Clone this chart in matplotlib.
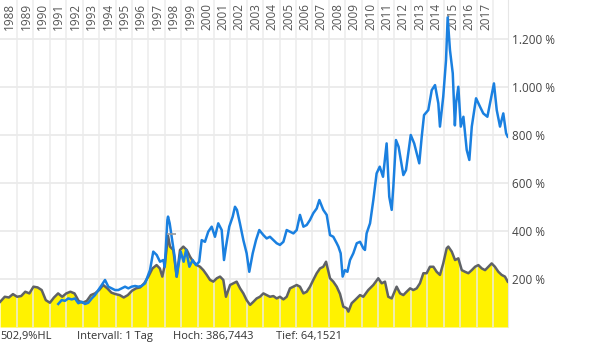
import matplotlib
matplotlib.use("Agg")
import matplotlib.pyplot as plt

# index line (grey, yellow area), % values
idx_t = [1987.97, 1988.25, 1988.5, 1988.75, 1989.0, 1989.25, 1989.5, 1989.75,
         1990.0, 1990.25, 1990.5, 1990.75, 1991.0, 1991.25, 1991.5, 1991.75,
         1992.0, 1992.25, 1992.5, 1992.75, 1993.0, 1993.25, 1993.5, 1993.75,
         1994.0, 1994.25, 1994.5, 1994.75, 1995.0, 1995.25, 1995.5, 1995.75,
         1996.0, 1996.25, 1996.5, 1996.75, 1997.0, 1997.25, 1997.5, 1997.7,
         1997.85, 1998.0, 1998.2, 1998.32, 1998.52, 1998.73, 1998.93, 1999.13,
         1999.34, 1999.54, 1999.74, 1999.95, 2000.15, 2000.35, 2000.56, 2000.76,
         2000.96, 2001.17, 2001.37, 2001.57, 2001.73, 2001.98, 2002.18, 2002.38,
         2002.59, 2002.79, 2002.99, 2003.2, 2003.4, 2003.6, 2003.8, 2004.01,
         2004.21, 2004.41, 2004.62, 2004.82, 2005.02, 2005.23, 2005.43, 2005.63,
         2005.84, 2006.04, 2006.24, 2006.45, 2006.65, 2006.85, 2007.05, 2007.26,
         2007.46, 2007.66, 2007.83, 2008.07, 2008.27, 2008.48, 2008.68, 2008.88,
         2009.09, 2009.19, 2009.39, 2009.59, 2009.9, 2010.1, 2010.4, 2010.71,
         2011.01, 2011.22, 2011.42, 2011.62, 2011.83, 2012.13, 2012.34, 2012.54,
         2012.74, 2012.95, 2013.15, 2013.35, 2013.55, 2013.76, 2013.96, 2014.16,
         2014.37, 2014.57, 2014.77, 2014.97, 2015.18, 2015.28, 2015.49, 2015.69,
         2015.89, 2016.1, 2016.3, 2016.5, 2016.71, 2016.91, 2017.11, 2017.32,
         2017.52, 2017.72, 2017.92, 2018.12, 2018.33, 2018.53, 2018.73, 2018.9]
idx_v = [105, 126, 123, 137, 126, 129, 147, 140,
         168, 165, 154, 112, 101, 123, 140, 126,
         140, 147, 140, 109, 101, 109, 133, 140,
         154, 175, 161, 143, 137, 133, 123, 133,
         151, 161, 165, 182, 210, 244, 258, 244,
         210, 258, 380, 335, 321, 210, 321, 335,
         321, 293, 272, 258, 251, 237, 217, 196,
         189, 203, 210, 196, 126, 175, 182, 189,
         161, 140, 112, 92, 105, 119, 126, 140,
         133, 126, 129, 119, 126, 115, 126, 161,
         168, 175, 168, 140, 147, 168, 196, 224,
         244, 251, 272, 203, 189, 168, 138, 85,
         78, 64, 99, 112, 133, 126, 154, 175,
         203, 182, 189, 126, 119, 168, 140, 133,
         147, 161, 154, 161, 182, 224, 224, 251,
         251, 230, 217, 265, 328, 335, 314, 279,
         286, 237, 230, 224, 237, 251, 258, 244,
         237, 251, 265, 251, 230, 217, 210, 189]

# stock line (blue), % values
stk_t = [1991.51, 1991.72, 1991.92, 1992.12, 1992.33, 1992.53, 1992.73, 1992.94,
         1993.14, 1993.34, 1993.55, 1993.75, 1993.95, 1994.16, 1994.36, 1994.56,
         1994.77, 1994.97, 1995.17, 1995.38, 1995.58, 1995.78, 1995.98, 1996.19,
         1996.39, 1996.59, 1996.8, 1997.1, 1997.3, 1997.51, 1997.71, 1997.91,
         1998.0, 1998.16, 1998.2, 1998.3, 1998.42, 1998.6, 1998.72, 1998.85,
         1998.97, 1999.15, 1999.3, 1999.5, 1999.7, 1999.9, 2000.1, 2000.25,
         2000.45, 2000.65, 2000.86, 2001.06, 2001.26, 2001.47, 2001.61, 2001.73,
         2001.93, 2002.14, 2002.28, 2002.4, 2002.58, 2002.79, 2002.99, 2003.15,
         2003.36, 2003.56, 2003.76, 2004.01, 2004.21, 2004.41, 2004.62, 2004.82,
         2005.02, 2005.23, 2005.43, 2005.63, 2005.84, 2006.04, 2006.24, 2006.45,
         2006.65, 2006.85, 2007.05, 2007.26, 2007.42, 2007.66, 2007.87, 2008.07,
         2008.27, 2008.48, 2008.58, 2008.72, 2008.84, 2008.98, 2009.13, 2009.29,
         2009.49, 2009.7, 2009.9, 2010.1, 2010.2, 2010.3, 2010.51, 2010.71,
         2010.91, 2011.1, 2011.3, 2011.52, 2011.68, 2011.83, 2011.93, 2012.09,
         2012.25, 2012.54, 2012.7, 2012.99, 2013.2, 2013.51, 2013.66, 2013.8,
         2014.06, 2014.27, 2014.47, 2014.67, 2014.77, 2014.97, 2015.14, 2015.24,
         2015.38, 2015.55, 2015.68, 2015.75, 2015.89, 2016.04, 2016.2, 2016.4,
         2016.56, 2016.71, 2016.97, 2017.21, 2017.41, 2017.66, 2017.86, 2018.06,
         2018.23, 2018.43, 2018.63, 2018.8, 2018.9]
stk_v = [96, 112, 109, 119, 115, 119, 99, 105,
         96, 101, 119, 133, 154, 175, 196, 168,
         161, 154, 154, 161, 168, 161, 168, 171,
         168, 171, 182, 237, 314, 300, 272, 279,
         251, 446, 460, 432, 376, 293, 210, 265,
         314, 272, 321, 251, 279, 258, 272, 362,
         355, 397, 418, 376, 432, 404, 279, 335,
         418, 460, 501, 488, 432, 362, 307, 230,
         307, 362, 404, 383, 369, 376, 362, 349,
         342, 355, 404, 397, 390, 404, 467, 418,
         425, 446, 474, 494, 529, 488, 467, 383,
         376, 349, 335, 307, 210, 237, 230, 279,
         307, 349, 355, 328, 321, 390, 432, 529,
         640, 668, 626, 765, 543, 488, 585, 779,
         751, 633, 654, 800, 765, 682, 793, 883,
         904, 987, 1008, 932, 835, 960, 1112, 1290,
         1154, 1057, 840, 932, 1001, 835, 876, 738,
         696, 835, 953, 918, 890, 876, 946, 1015,
         904, 835, 890, 807, 793]

years = list(range(1988, 2018))
pct_ticks = [200, 400, 600, 800, 1000, 1200]
pct_labels = ["200 %", "400 %", "600 %", "800 %", "1.000 %", "1.200 %"]
hoch, tief = 386.7443, 64.1521
footer = ["502,9%HL", "Intervall: 1 Tag", "Hoch: 386,7443", "Tief: 64,1521"]

plt.rcParams["font.family"] = ["Open Sans", "DejaVu Sans"]

W, H = 600, 346
fig = plt.figure(figsize=(W / 100, H / 100), dpi=100)
ax = fig.add_axes([0, 19 / H, 508 / W, 327 / H])

ax.fill_between(idx_t, 0, idx_v, color="#fff200", lw=0, zorder=1)
ax.plot(idx_t, idx_v, color="#5f6266", lw=1.8, zorder=3)
ax.plot(stk_t, stk_v, color="#1a80e0", lw=1.8, zorder=4)
ax.hlines(hoch, 1998.12, 1998.67, color="#9a9a9a", lw=1.2, zorder=5)

ax.set_xlim(1987.96, 1987.96 + 508 / 16.41)
ax.set_ylim(0, 327 / 0.24)

for y in pct_ticks:
    ax.axhline(y, color="#ebebeb", lw=1.3, zorder=0)
for yr in years:
    ax.axvline(yr + 1, color="#ebebeb", lw=1.3, zorder=2, alpha=0.8)
    ax.annotate(str(yr), (yr + 1, 1), xycoords=("data", "axes fraction"),
                xytext=(-1, -3), textcoords="offset pixels", rotation=90,
                ha="right", va="top", fontsize=8.5, color="#555555")

ax.yaxis.tick_right()
ax.set_yticks(pct_ticks)
ax.set_yticklabels(pct_labels, fontsize=8.5, color="#444444")
ax.tick_params(axis="y", length=0, pad=3)
ax.set_xticks([])
for s in ["top", "left", "bottom"]:
    ax.spines[s].set_visible(False)
ax.spines["right"].set_color("#e6e6e6")

for txt, xp in zip(footer, [0, 77, 173, 276]):
    fig.text(xp / W, 1 - 336 / H, txt, fontsize=8, color="#333333",
             ha="left", va="center")

fig.savefig("out.png", dpi=100)
